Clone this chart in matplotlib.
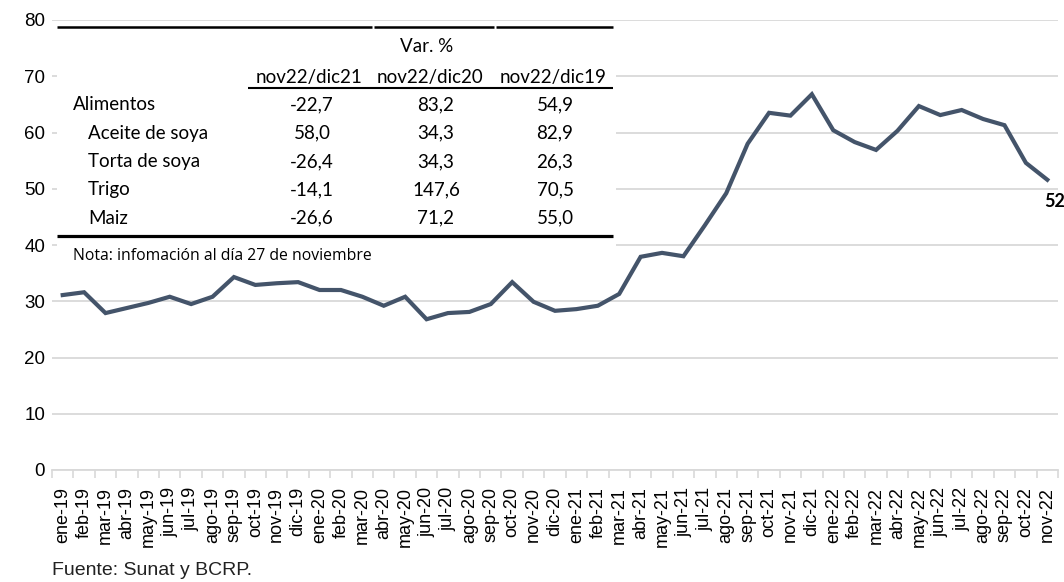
import numpy as np
import matplotlib
matplotlib.use('Agg')
import matplotlib.pyplot as plt
from matplotlib.patches import Rectangle
from matplotlib.lines import Line2D

# Serie mensual (ene-19 a nov-22)
meses = ['ene-19', 'feb-19', 'mar-19', 'abr-19', 'may-19', 'jun-19', 'jul-19', 'ago-19',
         'sep-19', 'oct-19', 'nov-19', 'dic-19',
         'ene-20', 'feb-20', 'mar-20', 'abr-20', 'may-20', 'jun-20', 'jul-20', 'ago-20',
         'sep-20', 'oct-20', 'nov-20', 'dic-20',
         'ene-21', 'feb-21', 'mar-21', 'abr-21', 'may-21', 'jun-21', 'jul-21', 'ago-21',
         'sep-21', 'oct-21', 'nov-21', 'dic-21',
         'ene-22', 'feb-22', 'mar-22', 'abr-22', 'may-22', 'jun-22', 'jul-22', 'ago-22',
         'sep-22', 'oct-22', 'nov-22']
indice = [31.1, 31.6, 27.9, 28.8, 29.7, 30.8, 29.5, 30.8, 34.3, 32.9, 33.2, 33.4,
          32.0, 32.0, 30.8, 29.2, 30.8, 26.8, 27.9, 28.1, 29.5, 33.4, 29.9, 28.3,
          28.6, 29.2, 31.3, 37.9, 38.6, 38.0, 43.5, 49.2, 58.0, 63.5, 63.0, 66.8,
          60.4, 58.3, 56.9, 60.3, 64.7, 63.1, 64.0, 62.4, 61.3, 54.6, 51.6]

# Tabla de variaciones
filas = ['Alimentos', 'Aceite de soya', 'Torta de soya', 'Trigo', 'Maiz']
columnas = ['nov22/dic21', 'nov22/dic20', 'nov22/dic19']
var_dic21 = ['-22,7', '58,0', '-26,4', '-14,1', '-26,6']
var_dic20 = ['83,2', '34,3', '34,3', '147,6', '71,2']
var_dic19 = ['54,9', '82,9', '26,3', '70,5', '55,0']

W, H = 1064, 582
fig = plt.figure(figsize=(W / 100, H / 100), dpi=100)
ax = fig.add_axes([52 / W, 1 - 470 / H, (1058 - 52) / W, 450 / H])

def fx(px):
    return px / W

def fy(py):
    return 1 - py / H

azul = '#44546A'
gris = '#D9D9D9'
tabla_font = 'Lato'

x = np.arange(len(meses))
ax.plot(x, indice, color=azul, lw=3.0, solid_joinstyle='miter', zorder=3)
ax.annotate('52', (x[-1], indice[-1]), xytext=(7, -22), textcoords='offset pixels',
            ha='center', va='center', fontsize=13, fontweight='bold',
            family=tabla_font, color='black', annotation_clip=False)

ax.set_xlim(-0.5, len(meses) - 0.5)
ax.set_ylim(0, 80)
ax.set_yticks(range(0, 81, 10))
ax.set_xticks(x)
ax.set_xticklabels(meses, rotation=90, family='Liberation Sans', fontsize=13)
ax.set_xticks(np.arange(-0.5, len(meses), 1), minor=True)
ax.tick_params(axis='x', which='major', length=0, pad=12)
ax.tick_params(axis='x', which='minor', length=6, width=1.2, color=gris)
ax.tick_params(axis='y', length=0, pad=5, labelsize=13.5)
for lbl in ax.get_yticklabels():
    lbl.set_family('Liberation Sans')

ax.grid(axis='y', color=gris, lw=1.3)
ax.set_axisbelow(True)
for s in ['top', 'right', 'left']:
    ax.spines[s].set_visible(False)
ax.spines['bottom'].set_color(gris)
ax.spines['bottom'].set_linewidth(1.3)

# Fondo blanco de la tabla
ax.add_patch(Rectangle((fx(57), fy(266)), fx(616) - fx(57), fy(23) - fy(266),
                       transform=fig.transFigure, facecolor='white', edgecolor='none',
                       zorder=1, clip_on=False))

def linea(x0, x1, y, lw):
    fig.add_artist(Line2D([fx(x0), fx(x1)], [fy(y), fy(y)], color='black', lw=lw,
                          transform=fig.transFigure, solid_capstyle='butt'))

linea(57, 372, 27, 1.8)
linea(374, 494, 27, 1.8)
linea(496, 613, 27, 1.8)
linea(248, 613, 88, 1.5)
linea(57, 613, 236, 2.3)

fig.text(fx(427), fy(47), 'Var. %', ha='center', va='center', fontsize=13.5, family=tabla_font)
for cx, col in zip([309, 430, 553], columnas):
    fig.text(fx(cx), fy(77), col, ha='center', va='center', fontsize=13.5, family=tabla_font)

filas_y = [105, 133, 162, 190, 218]
for i, nombre in enumerate(filas):
    x0 = 73 if i == 0 else 88
    fig.text(fx(x0), fy(filas_y[i]), nombre, ha='left', va='center', fontsize=13.5,
             family=tabla_font)
    for cx, vals in zip([312, 436, 555], [var_dic21, var_dic20, var_dic19]):
        fig.text(fx(cx), fy(filas_y[i]), vals[i], ha='center', va='center', fontsize=13.5,
                 family=tabla_font)

fig.text(fx(73), fy(256), 'Nota: infomación al día 27 de noviembre', ha='left', va='center',
         fontsize=11.3, family='Open Sans')

fig.text(fx(52), fy(579), 'Fuente: Sunat y BCRP.', ha='left', va='bottom', fontsize=14,
         family='Liberation Sans', color='#222222')

fig.savefig('out.png', dpi=100)
